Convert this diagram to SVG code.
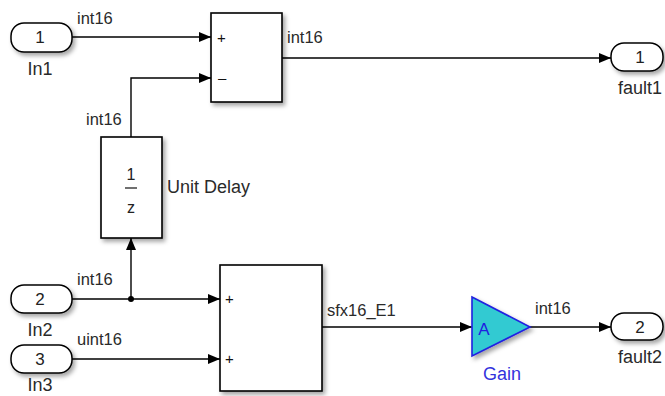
<svg xmlns="http://www.w3.org/2000/svg" width="665" height="396" viewBox="0 0 665 396">
<style>
.blk{fill:#fff;stroke:#000;stroke-width:1.6}
.cap{fill:#fff;stroke:#000;stroke-width:1.5}
.ln{fill:none;stroke:#000;stroke-width:1.4}
.sig{font-family:"Liberation Sans",Arial,sans-serif;font-size:16.5px;fill:#2a2a2a}
.nm{font-family:"Liberation Sans",Arial,sans-serif;font-size:18px;fill:#2a2a2a}
.num{font-family:"Liberation Sans",Arial,sans-serif;font-size:17px;fill:#222;text-anchor:middle}
.pm{font-family:"Liberation Sans",Arial,sans-serif;font-size:15px;fill:#111}
</style>
<defs>
<filter id="sh" x="-20%" y="-20%" width="150%" height="150%">
<feDropShadow dx="2.5" dy="3" stdDeviation="2" flood-color="#000" flood-opacity="0.35"/>
</filter>
<marker id="ar" markerUnits="userSpaceOnUse" markerWidth="13" markerHeight="11" refX="12" refY="5" orient="auto">
<path d="M0,0 L12,5 L0,10 z" fill="#000"/>
</marker>
</defs>
<g id="connectors">
<path class="ln" d="M72,37 H211" marker-end="url(#ar)"/>
<path class="ln" d="M131,137 V78 H211" marker-end="url(#ar)"/>
<path class="ln" d="M282,58 H611" marker-end="url(#ar)"/>
<path class="ln" d="M72,299 H220" marker-end="url(#ar)"/>
<path class="ln" d="M131,299 V238" marker-end="url(#ar)"/>
<circle cx="131" cy="299" r="3" fill="#000"/>
<path class="ln" d="M72,359 H220" marker-end="url(#ar)"/>
<path class="ln" d="M322,327 H472" marker-end="url(#ar)"/>
<path class="ln" d="M530,327 H611" marker-end="url(#ar)"/>
<text class="sig" x="77" y="24">int16</text>
<text class="sig" x="86" y="125">int16</text>
<text class="sig" x="287" y="43">int16</text>
<text class="sig" x="77" y="285">int16</text>
<text class="sig" x="77" y="345">uint16</text>
<text class="sig" x="327" y="316">sfx16_E1</text>
<text class="sig" x="535" y="314">int16</text>
</g>
<g id="In1">
<rect class="cap" x="11" y="23" width="61" height="29" rx="13" ry="13" filter="url(#sh)"/>
<text class="num" x="40" y="43">1</text>
<text class="nm" x="40" y="75" text-anchor="middle">In1</text>
</g>
<g id="In2">
<rect class="cap" x="11" y="285" width="61" height="28" rx="13" ry="13" filter="url(#sh)"/>
<text class="num" x="40" y="305">2</text>
<text class="nm" x="40" y="336" text-anchor="middle">In2</text>
</g>
<g id="In3">
<rect class="cap" x="11" y="345" width="61" height="28" rx="13" ry="13" filter="url(#sh)"/>
<text class="num" x="40" y="365">3</text>
<text class="nm" x="40" y="391" text-anchor="middle">In3</text>
</g>
<g id="Sum1">
<rect class="blk" x="211" y="13" width="71" height="89" filter="url(#sh)"/>
<text class="pm" x="217" y="43">+</text>
<text class="pm" x="218" y="83">–</text>
</g>
<g id="UnitDelay">
<rect class="blk" x="101" y="137" width="61" height="101" filter="url(#sh)"/>
<text class="num" x="131" y="180" style="font-size:16px">1</text>
<line x1="125" y1="188" x2="137" y2="188" stroke="#222" stroke-width="1.3"/>
<text class="num" x="131" y="213" style="font-size:16px">z</text>
<text class="nm" x="167" y="193">Unit Delay</text>
</g>
<g id="Sum2">
<rect class="blk" x="220" y="265" width="102" height="126" filter="url(#sh)"/>
<text class="pm" x="225" y="304">+</text>
<text class="pm" x="225" y="364">+</text>
</g>
<g id="Gain">
<path d="M472,297 L530,327 L472,356 z" fill="#33cad2" stroke="#2020e0" stroke-width="1.6" filter="url(#sh)"/>
<text x="484" y="335" text-anchor="middle" style="font-family:'Liberation Sans',Arial,sans-serif;font-size:17px;fill:#2020e0">A</text>
<text x="502" y="380" text-anchor="middle" style="font-family:'Liberation Sans',Arial,sans-serif;font-size:18px;fill:#3333dd">Gain</text>
</g>
<g id="fault1">
<rect class="cap" x="611" y="43" width="52" height="28" rx="13" ry="13" filter="url(#sh)"/>
<text class="num" x="640" y="63">1</text>
<text class="nm" x="640" y="94" text-anchor="middle">fault1</text>
</g>
<g id="fault2">
<rect class="cap" x="611" y="313" width="52" height="27" rx="13" ry="13" filter="url(#sh)"/>
<text class="num" x="640" y="333">2</text>
<text class="nm" x="640" y="363" text-anchor="middle">fault2</text>
</g>
</svg>
